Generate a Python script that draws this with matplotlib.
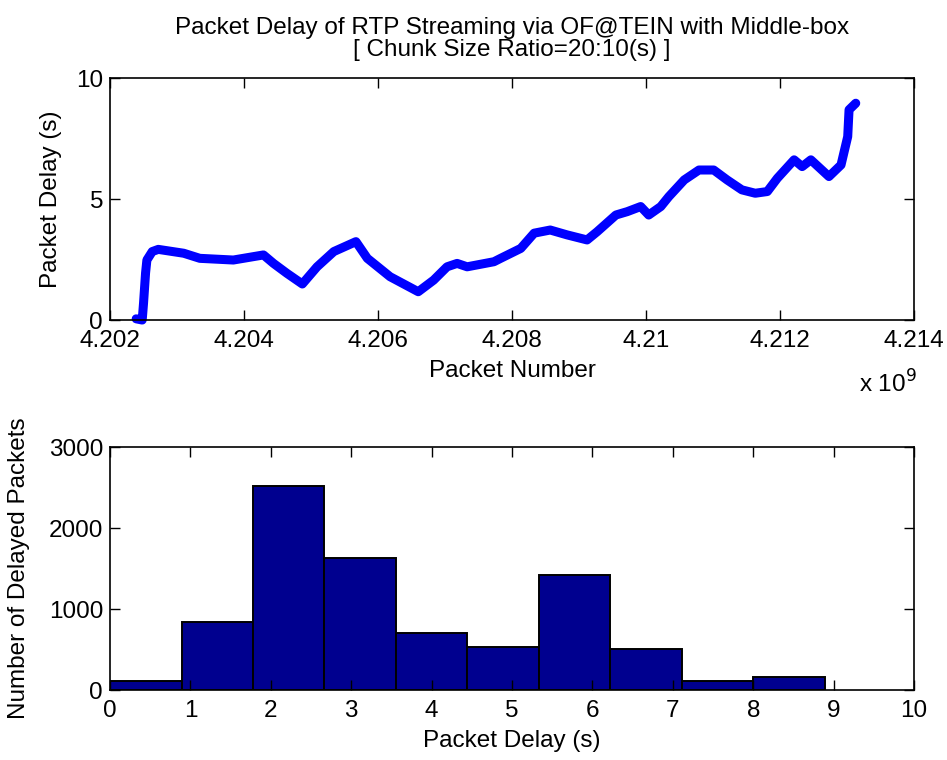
import numpy as np
import matplotlib
matplotlib.use("Agg")
import matplotlib.pyplot as plt
from matplotlib.ticker import FuncFormatter

plt.rcParams['font.family'] = ['Liberation Sans', 'DejaVu Sans']
plt.rcParams['font.size'] = 17.5

# packet delay trace (packet number in units of 1e9, delay in seconds)
packet_number = np.array([
    4.20239, 4.20248, 4.20250, 4.20253, 4.20255, 4.20263, 4.20272, 4.20310,
    4.20334, 4.20384, 4.20429, 4.20444, 4.20464, 4.20487, 4.20509, 4.20534,
    4.20567, 4.20584, 4.20618, 4.20660, 4.20683, 4.20703, 4.20718, 4.20733,
    4.20773, 4.20783, 4.20813, 4.20833, 4.20857, 4.20882, 4.20912, 4.20927,
    4.20955, 4.20972, 4.20992, 4.21004, 4.21022, 4.21034, 4.21057, 4.21079,
    4.21101, 4.21121, 4.21143, 4.21163, 4.21181, 4.21196, 4.21221, 4.21233,
    4.21246, 4.21273, 4.21291, 4.21301, 4.21303, 4.21313,
]) * 1e9
delay = np.array([
    0.05, 0.0, 0.7, 1.94, 2.48, 2.83, 2.92, 2.76,
    2.55, 2.48, 2.69, 2.34, 1.93, 1.49, 2.2, 2.83,
    3.24, 2.55, 1.79, 1.17, 1.65, 2.2, 2.34, 2.2,
    2.41, 2.55, 2.96, 3.59, 3.72, 3.52, 3.31, 3.65,
    4.34, 4.48, 4.69, 4.34, 4.69, 5.1, 5.79, 6.2,
    6.2, 5.79, 5.38, 5.24, 5.31, 5.86, 6.62, 6.34,
    6.62, 5.93, 6.41, 7.58, 8.69, 8.96,
])

# histogram of delays, 10 bins between min and max delay
delay_min, delay_max = 0.0, 8.89
bin_counts = [115, 840, 2515, 1625, 710, 525, 1420, 505, 115, 155]

fig = plt.figure(figsize=(9.47, 7.6), dpi=100)
ax1 = fig.add_axes([0.1162, 0.5789, 0.849, 0.3184])
ax2 = fig.add_axes([0.1162, 0.0921, 0.849, 0.3197])

ax1.plot(packet_number, delay, color='#0000ff', lw=6.5,
         solid_capstyle='round', solid_joinstyle='round', clip_on=False)
ax1.set_xlim(4.202e9, 4.214e9)
ax1.set_ylim(0, 10)
ax1.set_xticks(np.arange(4.202, 4.2141, 0.002) * 1e9)
ax1.set_yticks([0, 5, 10])
ax1.xaxis.set_major_formatter(FuncFormatter(lambda v, p: '%g' % round(v / 1e9, 3)))
ax1.set_title('Packet Delay of RTP Streaming via OF@TEIN with Middle-box\n'
              '[ Chunk Size Ratio=20:10(s) ]', fontsize=17.5, pad=16,
              linespacing=1.0)
ax1.set_xlabel('Packet Number')
ax1.set_ylabel('Packet Delay (s)')
ax1.xaxis.set_label_coords(0.5, -0.165)
ax1.yaxis.set_label_coords(-0.06, 0.5)
ax1.text(0.932, -0.30, r'x 10$^9$', transform=ax1.transAxes, fontsize=17.5,
         va='baseline', ha='left')

edges = np.linspace(delay_min, delay_max, len(bin_counts) + 1)
ax2.bar(edges[:-1], bin_counts, width=np.diff(edges), align='edge',
        color='#00008f', edgecolor='black', linewidth=1.4)
ax2.set_xlim(0, 10)
ax2.set_ylim(0, 3000)
ax2.set_xticks(range(0, 11))
ax2.set_yticks([0, 1000, 2000, 3000])
ax2.set_xlabel('Packet Delay (s)')
ax2.set_ylabel('Number of Delayed Packets')
ax2.xaxis.set_label_coords(0.5, -0.165)
ax2.yaxis.set_label_coords(-0.10, 0.5)

for ax in (ax1, ax2):
    ax.tick_params(direction='in', length=7, width=1, top=True, right=True)
    ax.tick_params(axis='x', pad=7)
    ax.tick_params(axis='y', pad=5)
    for s in ax.spines.values():
        s.set_linewidth(1.2)

fig.savefig('out.png', dpi=100)
